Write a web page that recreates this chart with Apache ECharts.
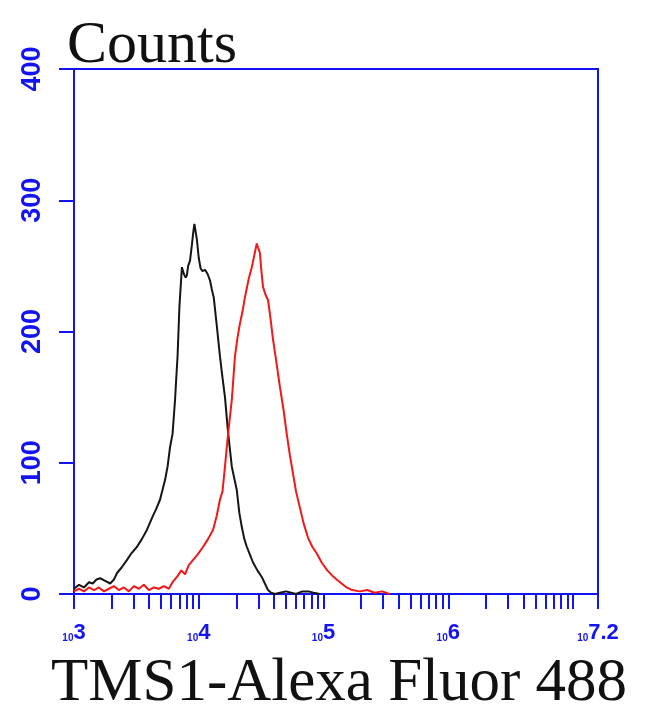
<!DOCTYPE html>
<html>
<head>
<meta charset="utf-8">
<script src="https://cdn.jsdelivr.net/npm/echarts@6/dist/echarts.min.js"></script>
<style>
  html, body { margin: 0; padding: 0; background: #fff; }
  #chart { width: 650px; height: 715px; }
</style>
</head>
<body>
<div id="chart"></div>
<script>
// 坐标轴刻度（x 为 log10 荧光强度）
var xMajorTicks = [3, 4, 5, 6, 7.2];
var xTickLabels = ['3', '4', '5', '6', '7.2'];
var yTicks = [0, 100, 200, 300, 400];

// 黑色：对照
var blackX = [3.00,3.04,3.08,3.12,3.15,3.18,3.21,3.25,3.29,3.32,3.345,3.38,3.425,3.46,3.505,3.545,3.585,3.63,3.66,3.69,
  3.73,3.75,3.77,3.79,3.81,3.82,3.83,3.845,3.865,3.88,3.895,3.905,3.915,3.93,3.945,3.955,3.965,3.975,3.985,4.00,
  4.015,4.03,4.05,4.07,4.09,4.105,4.12,4.145,4.17,4.19,4.21,4.235,4.265,4.285,4.305,4.325,4.345,4.365,4.385,4.41,
  4.435,4.47,4.505,4.53,4.555,4.58,4.61,4.65,4.70,4.74,4.78,4.83,4.88,4.92,4.97];
var blackY = [4,7,5,9,8,11,12,10,8,11,16,20,26,31,36,42,49,59,65,72,
  87,97,112,122,148,165,181,219,249,244,241,243,250,254,266,275,282,276,270,256,
  248,246,247,244,239,232,226,204,181,165,150,123,97,88,79,62,51,42,36,30,
  24,18,13,8,3,1,0,1,2,1,0,2,2,1,0];

// 红色：TMS1
var redX = [3.00,3.04,3.08,3.12,3.16,3.20,3.24,3.28,3.32,3.36,3.40,3.44,3.48,3.52,3.56,3.60,3.64,3.68,3.72,3.76,
  3.79,3.825,3.86,3.89,3.92,3.955,3.99,4.035,4.075,4.115,4.145,4.17,4.19,4.21,4.235,4.265,4.29,4.31,4.33,4.35,
  4.37,4.40,4.425,4.445,4.465,4.475,4.49,4.50,4.515,4.535,4.555,4.575,4.595,4.62,4.65,4.68,4.705,4.73,4.755,4.78,
  4.81,4.84,4.875,4.91,4.945,4.985,5.03,5.07,5.105,5.145,5.185,5.23,5.29,5.35,5.41,5.47,5.53];
var redY = [2,4,2,5,3,5,2,4,6,3,5,2,6,4,7,3,5,4,6,4,
  9,13,18,15,22,26,30,36,42,49,60,72,78,97,122,148,181,195,206,215,
  226,240,249,258,267,264,260,248,234,228,224,210,194,178,158,140,122,106,92,78,
  66,54,43,36,31,24,18,14,11,8,5,3,2,3,1,2,0];

var blue = '#1414f0';

// 次刻度：每个十倍程内的 2..9
var xAllTicks = [];
for (var d = 3; d <= 7; d++) {
    for (var k = 1; k <= 9; k++) {
        var v = d + Math.log10(k);
        if (v <= 7.2) xAllTicks.push(v);
    }
}
xAllTicks.push(7.2);

function zip(xs, ys) {
    var out = [];
    for (var i = 0; i < xs.length; i++) out.push([xs[i], ys[i]]);
    return out;
}

var myChart = echarts.init(document.getElementById('chart'));

var option = {
    animation: false,
    backgroundColor: '#fff',
    grid: {left: 74, top: 69, width: 524, height: 525, show: true, borderColor: blue, borderWidth: 2},
    xAxis: {
        type: 'value',
        min: 3,
        max: 7.2,
        splitLine: {show: false},
        axisLine: {lineStyle: {color: blue, width: 2}},
        axisTick: {show: true, customValues: xAllTicks, length: 15, lineStyle: {color: blue, width: 2}},
        axisLabel: {
            customValues: xMajorTicks,
            margin: 29,
            formatter: function (val) {
                var idx = xMajorTicks.indexOf(val);
                return '{s|10}{b|' + (idx >= 0 ? xTickLabels[idx] : val) + '}';
            },
            rich: {
                s: {fontSize: 10, fontFamily: 'Liberation Sans', fontWeight: 'bold', color: blue, verticalAlign: 'bottom', lineHeight: 20},
                b: {fontSize: 22, fontFamily: 'Liberation Sans', fontWeight: 'bold', color: blue, lineHeight: 20}
            }
        }
    },
    yAxis: {
        type: 'value',
        min: 0,
        max: 400,
        interval: 100,
        splitLine: {show: false},
        axisLine: {lineStyle: {color: blue, width: 2}},
        axisTick: {length: 15, lineStyle: {color: blue, width: 2}},
        axisLabel: {
            rotate: 90,
            margin: 28,
            color: blue,
            fontSize: 27,
            fontWeight: 'bold',
            fontFamily: 'Liberation Sans'
        }
    },
    graphic: [
        {
            type: 'text', x: 67, y: 46,
            style: {text: 'Counts', fill: '#111', font: '60px "Liberation Serif"', textAlign: 'left', textVerticalAlign: 'middle'}
        },
        {
            type: 'text', x: 51, y: 684,
            style: {text: 'TMS1-Alexa Fluor 488', fill: '#111', font: '61px "Liberation Serif"', textAlign: 'left', textVerticalAlign: 'middle'}
        }
    ],
    series: [
        {
            name: 'Control', type: 'line', data: zip(blackX, blackY),
            showSymbol: false, lineStyle: {color: '#151515', width: 2}, z: 3
        },
        {
            name: 'TMS1', type: 'line', data: zip(redX, redY),
            showSymbol: false, lineStyle: {color: '#f01818', width: 2}, z: 4
        }
    ]
};

myChart.setOption(option);
</script>
</body>
</html>
